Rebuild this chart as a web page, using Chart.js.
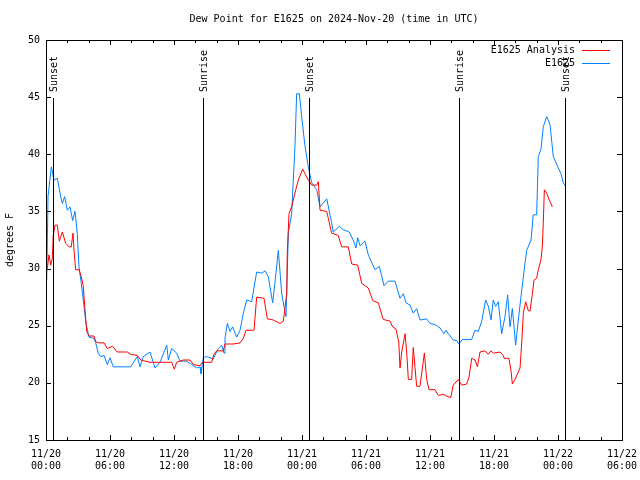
<!DOCTYPE html>
<html>
<head>
<meta charset="utf-8">
<script src="https://cdn.jsdelivr.net/npm/chart.js@4"></script>
<style>
html, body { margin: 0; padding: 0; background: #fff; }
</style>
</head>
<body>
<canvas id="dewchart" width="640" height="480"></canvas>
<script>
// hours since 11/20 00:00 UTC
var analysisHours = [0.12, 0.28, 0.44, 0.59, 0.68, 0.84, 1.06, 1.25, 1.53, 1.85, 2.16, 2.37, 2.53, 2.63, 2.78, 3.09, 3.31, 3.5, 3.63, 3.82,
    4.03, 4.5, 4.66, 4.9, 5.44, 5.75, 6.22, 6.68, 7.62, 7.94, 8.56, 8.88, 9.75, 11.78, 12.03, 12.25, 12.87, 13.5, 13.81, 14.44,
    14.65, 15.53, 15.75, 16.0, 16.62, 16.78, 17.56, 18.19, 18.5, 18.75, 19.5, 19.75, 20.44, 20.75, 21.31, 21.94, 22.25, 22.57, 22.62, 22.78,
    23.03, 23.34, 23.65, 24.07, 24.28, 24.59, 24.91, 25.38, 25.53, 25.69, 26.32, 26.78, 27.4, 27.72, 28.34, 28.66, 29.22, 29.6, 30.22, 30.63,
    31.15, 31.62, 32.25, 32.5, 32.81, 33.07, 33.19, 33.35, 33.66, 33.82, 33.97, 34.28, 34.43, 34.75, 35.06, 35.47, 35.69, 35.91, 36.47, 36.78,
    37.25, 37.57, 37.94, 38.18, 38.65, 38.97, 39.44, 39.66, 39.91, 40.22, 40.44, 40.69, 41.16, 41.47, 41.72, 41.93, 42.56, 42.87, 42.96, 43.4,
    43.59, 43.72, 43.97, 44.44, 44.6, 44.75, 44.97, 45.22, 45.38, 45.6, 45.75, 46.0, 46.15, 46.4, 46.53, 46.62, 46.72, 46.94, 47.19, 47.47];
var analysisValues = [30.0, 31.2, 30.3, 30.9, 32.9, 33.8, 33.8, 32.4, 33.2, 32.2, 31.9, 31.9, 33.1, 31.6, 29.9, 29.9, 29.3, 28.4, 26.7, 24.5,
    24.1, 24.1, 23.6, 23.5, 23.5, 23.0, 23.2, 22.7, 22.7, 22.5, 22.4, 22.0, 21.8, 21.8, 21.2, 21.8, 22.0, 22.0, 21.6, 21.5,
    21.8, 21.8, 22.5, 22.8, 22.8, 23.4, 23.4, 23.5, 23.9, 24.6, 24.6, 27.5, 27.4, 25.6, 25.5, 25.2, 25.4, 27.8, 31.3, 34.8,
    35.4, 36.6, 37.75, 38.7, 38.3, 37.75, 37.3, 37.3, 37.6, 35.1, 35.0, 33.1, 32.9, 31.9, 31.9, 30.4, 30.3, 28.7, 28.3, 27.2,
    27.0, 25.55, 25.4, 24.9, 24.7, 23.6, 21.3, 22.7, 24.3, 22.6, 20.3, 20.3, 23.1, 19.7, 19.7, 22.6, 20.3, 19.4, 19.4, 18.9,
    19.0, 18.85, 18.7, 19.8, 20.3, 19.8, 19.9, 20.5, 22.15, 22.0, 21.4, 22.7, 22.8, 22.5, 22.8, 22.6, 22.7, 22.4, 22.15, 22.15,
    21.1, 19.9, 20.3, 21.3, 23.5, 26.1, 27.1, 26.3, 26.3, 27.8, 29.0, 29.15, 29.9, 30.75, 31.9, 33.95, 36.9, 36.6, 36.0, 35.4];

var obsHours = [0.07, 0.19, 0.5, 0.75, 1.06, 1.38, 1.53, 1.75, 2.0, 2.25, 2.5, 2.72, 2.93, 3.09, 3.31, 3.56, 3.75, 4.03, 4.5, 4.66,
    4.9, 5.13, 5.44, 5.75, 6.0, 6.31, 7.94, 8.56, 8.81, 9.12, 9.75, 10.22, 10.69, 11.32, 11.47, 11.78, 12.25, 12.56, 13.19, 13.66,
    14.13, 14.44, 14.53, 14.75, 15.07, 15.68, 16.15, 16.47, 16.69, 16.78, 17.0, 17.25, 17.5, 17.88, 18.19, 18.5, 18.82, 19.28, 19.75, 20.22,
    20.53, 20.84, 21.25, 21.63, 21.78, 22.1, 22.31, 22.5, 22.72, 23.03, 23.34, 23.5, 23.75, 23.97, 24.28, 24.59, 24.91, 25.38, 25.69, 26.32,
    26.78, 26.93, 27.5, 27.87, 28.43, 28.8, 29.06, 29.22, 29.44, 29.9, 30.22, 30.84, 31.25, 31.69, 32.09, 32.72, 33.19, 33.5, 33.75, 34.13,
    34.43, 34.75, 35.06, 35.69, 36.0, 36.47, 36.94, 37.31, 37.5, 37.72, 38.18, 38.5, 38.72, 39.03, 39.91, 40.22, 40.53, 40.85, 41.22, 41.47,
    41.72, 41.93, 42.16, 42.4, 42.72, 43.03, 43.28, 43.5, 43.72, 44.03, 44.28, 44.6, 44.91, 45.07, 45.47, 45.68, 46.0, 46.15, 46.4, 46.62,
    46.94, 47.25, 47.56, 48.03, 48.28, 48.5, 48.72];
var obsValues = [29.0, 36.3, 38.9, 37.75, 37.9, 36.3, 35.7, 36.3, 35.1, 35.4, 34.2, 35.0, 33.1, 30.2, 28.7, 26.7, 25.2, 24.0, 23.9, 23.5,
    22.6, 22.3, 22.4, 21.6, 22.2, 21.4, 21.4, 22.3, 21.4, 22.3, 22.7, 21.3, 21.8, 23.3, 22.0, 23.0, 22.6, 21.9, 21.9, 21.6,
    21.3, 21.4, 20.8, 22.2, 22.3, 22.1, 23.0, 23.3, 22.6, 23.9, 25.2, 24.5, 24.9, 24.0, 24.6, 26.1, 27.25, 27.1, 29.7, 29.6,
    29.8, 29.3, 27.0, 30.2, 31.6, 27.8, 26.7, 25.8, 33.1, 34.8, 40.7, 45.3, 45.3, 43.3, 40.7, 38.9, 37.5, 36.9, 35.4, 36.1,
    34.0, 33.2, 33.7, 33.4, 33.2, 32.5, 31.8, 32.7, 32.0, 32.4, 31.2, 29.9, 30.2, 28.5, 28.9, 28.9, 27.4, 27.8, 27.0, 26.8,
    26.1, 26.5, 25.5, 25.6, 25.2, 25.1, 24.8, 24.3, 24.6, 24.3, 23.75, 23.7, 23.4, 23.8, 23.8, 24.6, 24.5, 25.4, 27.25, 26.7,
    25.5, 27.25, 26.7, 27.1, 24.3, 25.8, 27.7, 24.9, 26.5, 23.3, 25.5, 28.1, 30.5, 31.6, 32.5, 34.7, 34.7, 39.8, 40.4, 42.4,
    43.3, 42.6, 39.8, 38.8, 38.3, 37.5, 37.2];

var tickDates = ['11/20', '11/20', '11/20', '11/20', '11/21', '11/21', '11/21', '11/21', '11/22', '11/22'];
var tickTimes = ['00:00', '06:00', '12:00', '18:00', '00:00', '06:00', '12:00', '18:00', '00:00', '06:00'];

var sunHours = [0.7, 14.7, 24.7, 38.7, 48.7];
var sunLabels = ['Sunset', 'Sunrise', 'Sunset', 'Sunrise', 'Sunset'];

var FONT = '10px "DejaVu Sans Mono"';

var toPoints = function (xs, ys) {
    return xs.map(function (h, i) { return { x: h, y: ys[i] }; });
};

// frame, inward ticks, sunrise/sunset markers, title, legend
var gnuplotLook = {
    id: 'gnuplotLook',
    afterDatasetsDraw: function (chart) {
        var ctx = chart.ctx;
        var a = chart.chartArea;
        var xs = chart.scales.x, ys = chart.scales.y;
        ctx.save();
        ctx.strokeStyle = '#000';
        ctx.fillStyle = '#000';
        ctx.lineWidth = 1;
        ctx.font = FONT;

        // sunrise / sunset
        sunHours.forEach(function (h, i) {
            var px = Math.round(xs.getPixelForValue(h)) + 0.5;
            ctx.beginPath();
            ctx.moveTo(px, 98);
            ctx.lineTo(px, a.bottom);
            ctx.stroke();
            ctx.save();
            ctx.translate(px + 1, 92);
            ctx.rotate(-Math.PI / 2);
            ctx.textAlign = 'left';
            ctx.textBaseline = 'middle';
            ctx.fillText(sunLabels[i], 0, 0);
            ctx.restore();
        });

        ctx.strokeRect(a.left + 0.5, a.top + 0.5, a.right - a.left, a.bottom - a.top);

        ctx.beginPath();
        for (var h = 0; h <= 54; h += 2) {
            var px = Math.round(xs.getPixelForValue(h)) + 0.5;
            var len = h % 6 == 0 ? 5 : 3;
            ctx.moveTo(px, a.bottom); ctx.lineTo(px, a.bottom - len);
            ctx.moveTo(px, a.top); ctx.lineTo(px, a.top + len);
        }
        for (var v = 15; v <= 50; v += 5) {
            var py = Math.round(ys.getPixelForValue(v)) + 0.5;
            ctx.moveTo(a.left, py); ctx.lineTo(a.left + 5, py);
            ctx.moveTo(a.right, py); ctx.lineTo(a.right - 5, py);
        }
        ctx.stroke();

        // title
        ctx.textAlign = 'center';
        ctx.textBaseline = 'middle';
        ctx.fillText('Dew Point for E1625 on 2024-Nov-20 (time in UTC)', (a.left + a.right) / 2, 19);

        // y label
        ctx.save();
        ctx.translate(10, (a.top + a.bottom) / 2);
        ctx.rotate(-Math.PI / 2);
        ctx.fillText('degrees F', 0, 0);
        ctx.restore();

        // legend
        chart.data.datasets.forEach(function (ds, i) {
            var y = 50 + i * 13;
            ctx.textAlign = 'right';
            ctx.fillStyle = '#000';
            ctx.fillText(ds.label, 575, y);
            ctx.strokeStyle = ds.borderColor;
            ctx.beginPath();
            ctx.moveTo(582, y + 0.5);
            ctx.lineTo(610, y + 0.5);
            ctx.stroke();
        });
        ctx.restore();
    }
};

Chart.defaults.font.family = '"DejaVu Sans Mono"';
Chart.defaults.font.size = 10;
Chart.defaults.color = '#000';

var chart = new Chart(document.getElementById('dewchart'), {
    type: 'line',
    data: {
        datasets: [{
            label: 'E1625 Analysis',
            data: toPoints(analysisHours, analysisValues),
            borderColor: '#ff0000',
            borderWidth: 1,
            pointRadius: 0,
            tension: 0,
        }, {
            label: 'E1625',
            data: toPoints(obsHours, obsValues),
            borderColor: '#0080ff',
            borderWidth: 1,
            pointRadius: 0,
            tension: 0,
        }],
    },
    options: {
        responsive: false,
        animation: false,
        layout: { padding: { top: 40, right: 18, left: 0, bottom: 0 } },
        plugins: {
            legend: { display: false },
            tooltip: { enabled: false },
            title: { display: false },
        },
        scales: {
            x: {
                type: 'linear',
                min: 0,
                max: 54,
                grid: { display: false, drawTicks: false },
                border: { display: false },
                afterFit: function (s) {
                    s.height = 40;
                    s.paddingLeft = 0;
                    s.paddingRight = 0;
                },
                ticks: {
                    stepSize: 6,
                    autoSkip: false,
                    maxRotation: 0,
                    padding: 8,
                    callback: function (v) {
                        var i = Math.round(v / 6);
                        return [tickDates[i], tickTimes[i]];
                    },
                },
            },
            y: {
                min: 15,
                max: 50,
                grid: { display: false, drawTicks: false },
                border: { display: false },
                afterFit: function (s) {
                    s.width = 46;
                    s.paddingTop = 0;
                    s.paddingBottom = 0;
                },
                ticks: { stepSize: 5, padding: 6 },
            },
        },
    },
    plugins: [gnuplotLook],
});
</script>
</body>
</html>
